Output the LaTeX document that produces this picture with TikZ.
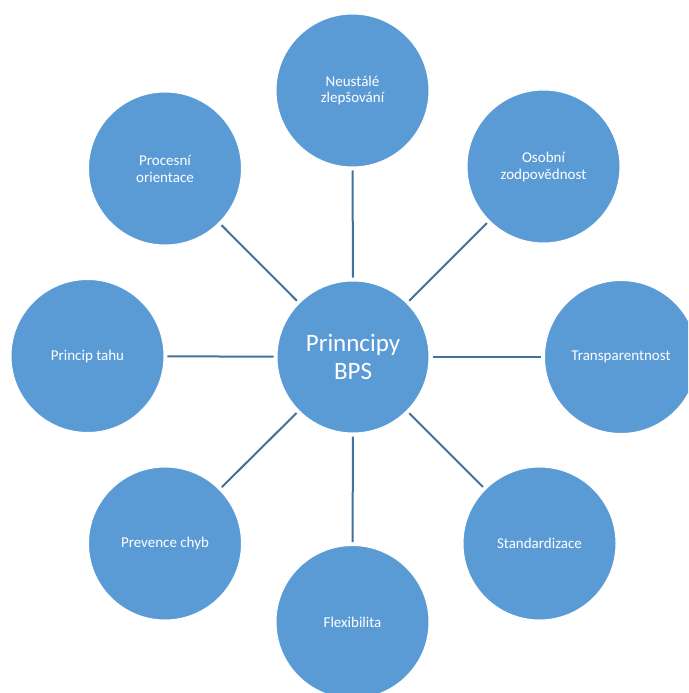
\documentclass[tikz,border=0pt]{standalone}
\usepackage{fontspec}
\setmainfont{Carlito}
\definecolor{fillb}{HTML}{5B9BD5}
\definecolor{lineb}{HTML}{41719C}
\begin{document}
\begin{tikzpicture}[x=1pt,y=-1pt,
  circ/.style={circle, fill=fillb, draw=white, line width=1pt, minimum size=153pt,
    inner sep=0pt, text=white, align=center, font=\fontsize{15}{17}\selectfont},
  hub/.style={circ, minimum size=152pt, font=\fontsize{25}{28}\selectfont},
  link/.style={draw=lineb, line width=2pt, shorten >=3pt, shorten <=3pt}]
\useasboundingbox (0,0) rectangle (688,693);
\clip (0,0) rectangle (688,693);
\node[hub] (c) at (353,357) {Prinncipy\\BPS};
\node[circ] (n) at (352.5,90.5) {Neustálé\\zlepšování};
\node[circ] (o) at (543.5,166.5) {Osobní\\zodpovědnost};
\node[circ] (t) at (621,357) {Transparentnost};
\node[circ] (s) at (539.5,543.5) {Standardizace};
\node[circ] (f) at (352.5,622) {Flexibilita};
\node[circ] (p) at (165,543.5) {Prevence chyb};
\node[circ] (pt) at (87.5,356) {Princip tahu};
\node[circ] (pr) at (165,168.5) {Procesní\\orientace};
\foreach \x in {n,o,t,s,f,p,pt,pr}
  \draw[link] (c) -- (\x);
\end{tikzpicture}
\end{document}
